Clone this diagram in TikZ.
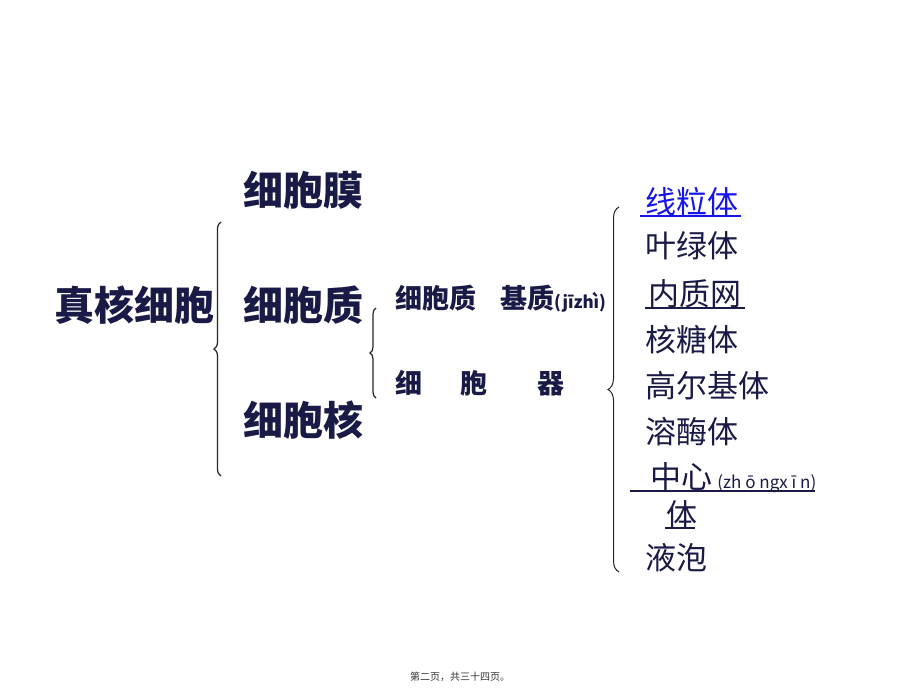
\documentclass[tikz,border=0pt]{standalone}
\usepackage{fontspec}
\newfontfamily\cjk{Noto Sans CJK SC}
\usetikzlibrary{decorations.pathreplacing}
\definecolor{inknavy}{RGB}{26,26,70}
\definecolor{linkblue}{RGB}{20,20,235}
\tikzset{
  bigword/.style={font=\cjk\bfseries\fontsize{40}{42}\selectfont, text=inknavy, anchor=west, inner sep=0pt},
  midword/.style={font=\cjk\bfseries\fontsize{27}{29}\selectfont, text=inknavy, anchor=west, inner sep=0pt},
  listword/.style={font=\cjk\fontsize{31}{33}\selectfont, text=inknavy, anchor=west, inner sep=0pt},
  curly/.style={decorate, decoration={brace, amplitude=#1}, line width=1.2pt, draw=black!85},
  curly/.default=7pt,
  underl/.style={line width=1.2pt, draw=inknavy},
}
\begin{document}
\begin{tikzpicture}[x=1pt, y=-1pt]
	\useasboundingbox[fill=white] (0,0) rectangle (920,690);
	% left column
	\node[bigword] (eukaryote) at (54,305) {真核细胞};
	\node[bigword] (membrane) at (243,190) {细胞膜};
	\node[bigword] (cytoplasm) at (243,305) {细胞质};
	\node[bigword] (nucleus) at (243,420) {细胞核};
	\coordinate (bigtop) at (221,222);
	\coordinate (bigbot) at (221,476);
	\draw[curly=7pt] (bigbot) -- (bigtop);
	% cytoplasm split
	\node[midword] (matrix) at (395,299) {细胞质\hspace{24pt}基质{\fontsize{17}{17}\selectfont(jīzhì)}};
	\node[midword] (organelle) at (395,383) {细\hspace{38pt}胞\hspace{50pt}器};
	\coordinate (smalltop) at (376,308);
	\coordinate (smallbot) at (376,398);
	\draw[curly=6pt] (smallbot) -- (smalltop);
	% organelle list
	\coordinate (listtop) at (619,207);
	\coordinate (listbot) at (619,572);
	\draw[curly=11pt, line width=1pt] (listbot) -- (listtop);
	\node[listword, text=linkblue] (mito) at (645,202) {线粒体};
	\node[listword] (chloro) at (645,246) {叶绿体};
	\node[listword] (er) at (648,294) {内质网};
	\node[listword] (ribo) at (645,340) {核糖体};
	\node[listword] (golgi) at (645,386) {高尔基体};
	\node[listword] (lyso) at (645,432) {溶酶体};
	\node[listword] (centro) at (650,478) {中心\,{\fontsize{17}{17}\selectfont(zh ō ngx ī n)}};
	\node[listword] (centrob) at (666,515) {体};
	\node[listword] (vacuole) at (645,558) {液泡};
	\draw[underl, draw=linkblue] (640,216) -- (741,216);
	\draw[underl] (645,308) -- (745,308);
	\draw[underl] (630,491) -- (815,491);
	\draw[underl] (665,528) -- (695,528);
	% footer
	\node[font=\cjk\fontsize{10}{10}\selectfont, text=black!80] (footer) at (460,677) {第二页，共三十四页。};
\end{tikzpicture}
\end{document}
